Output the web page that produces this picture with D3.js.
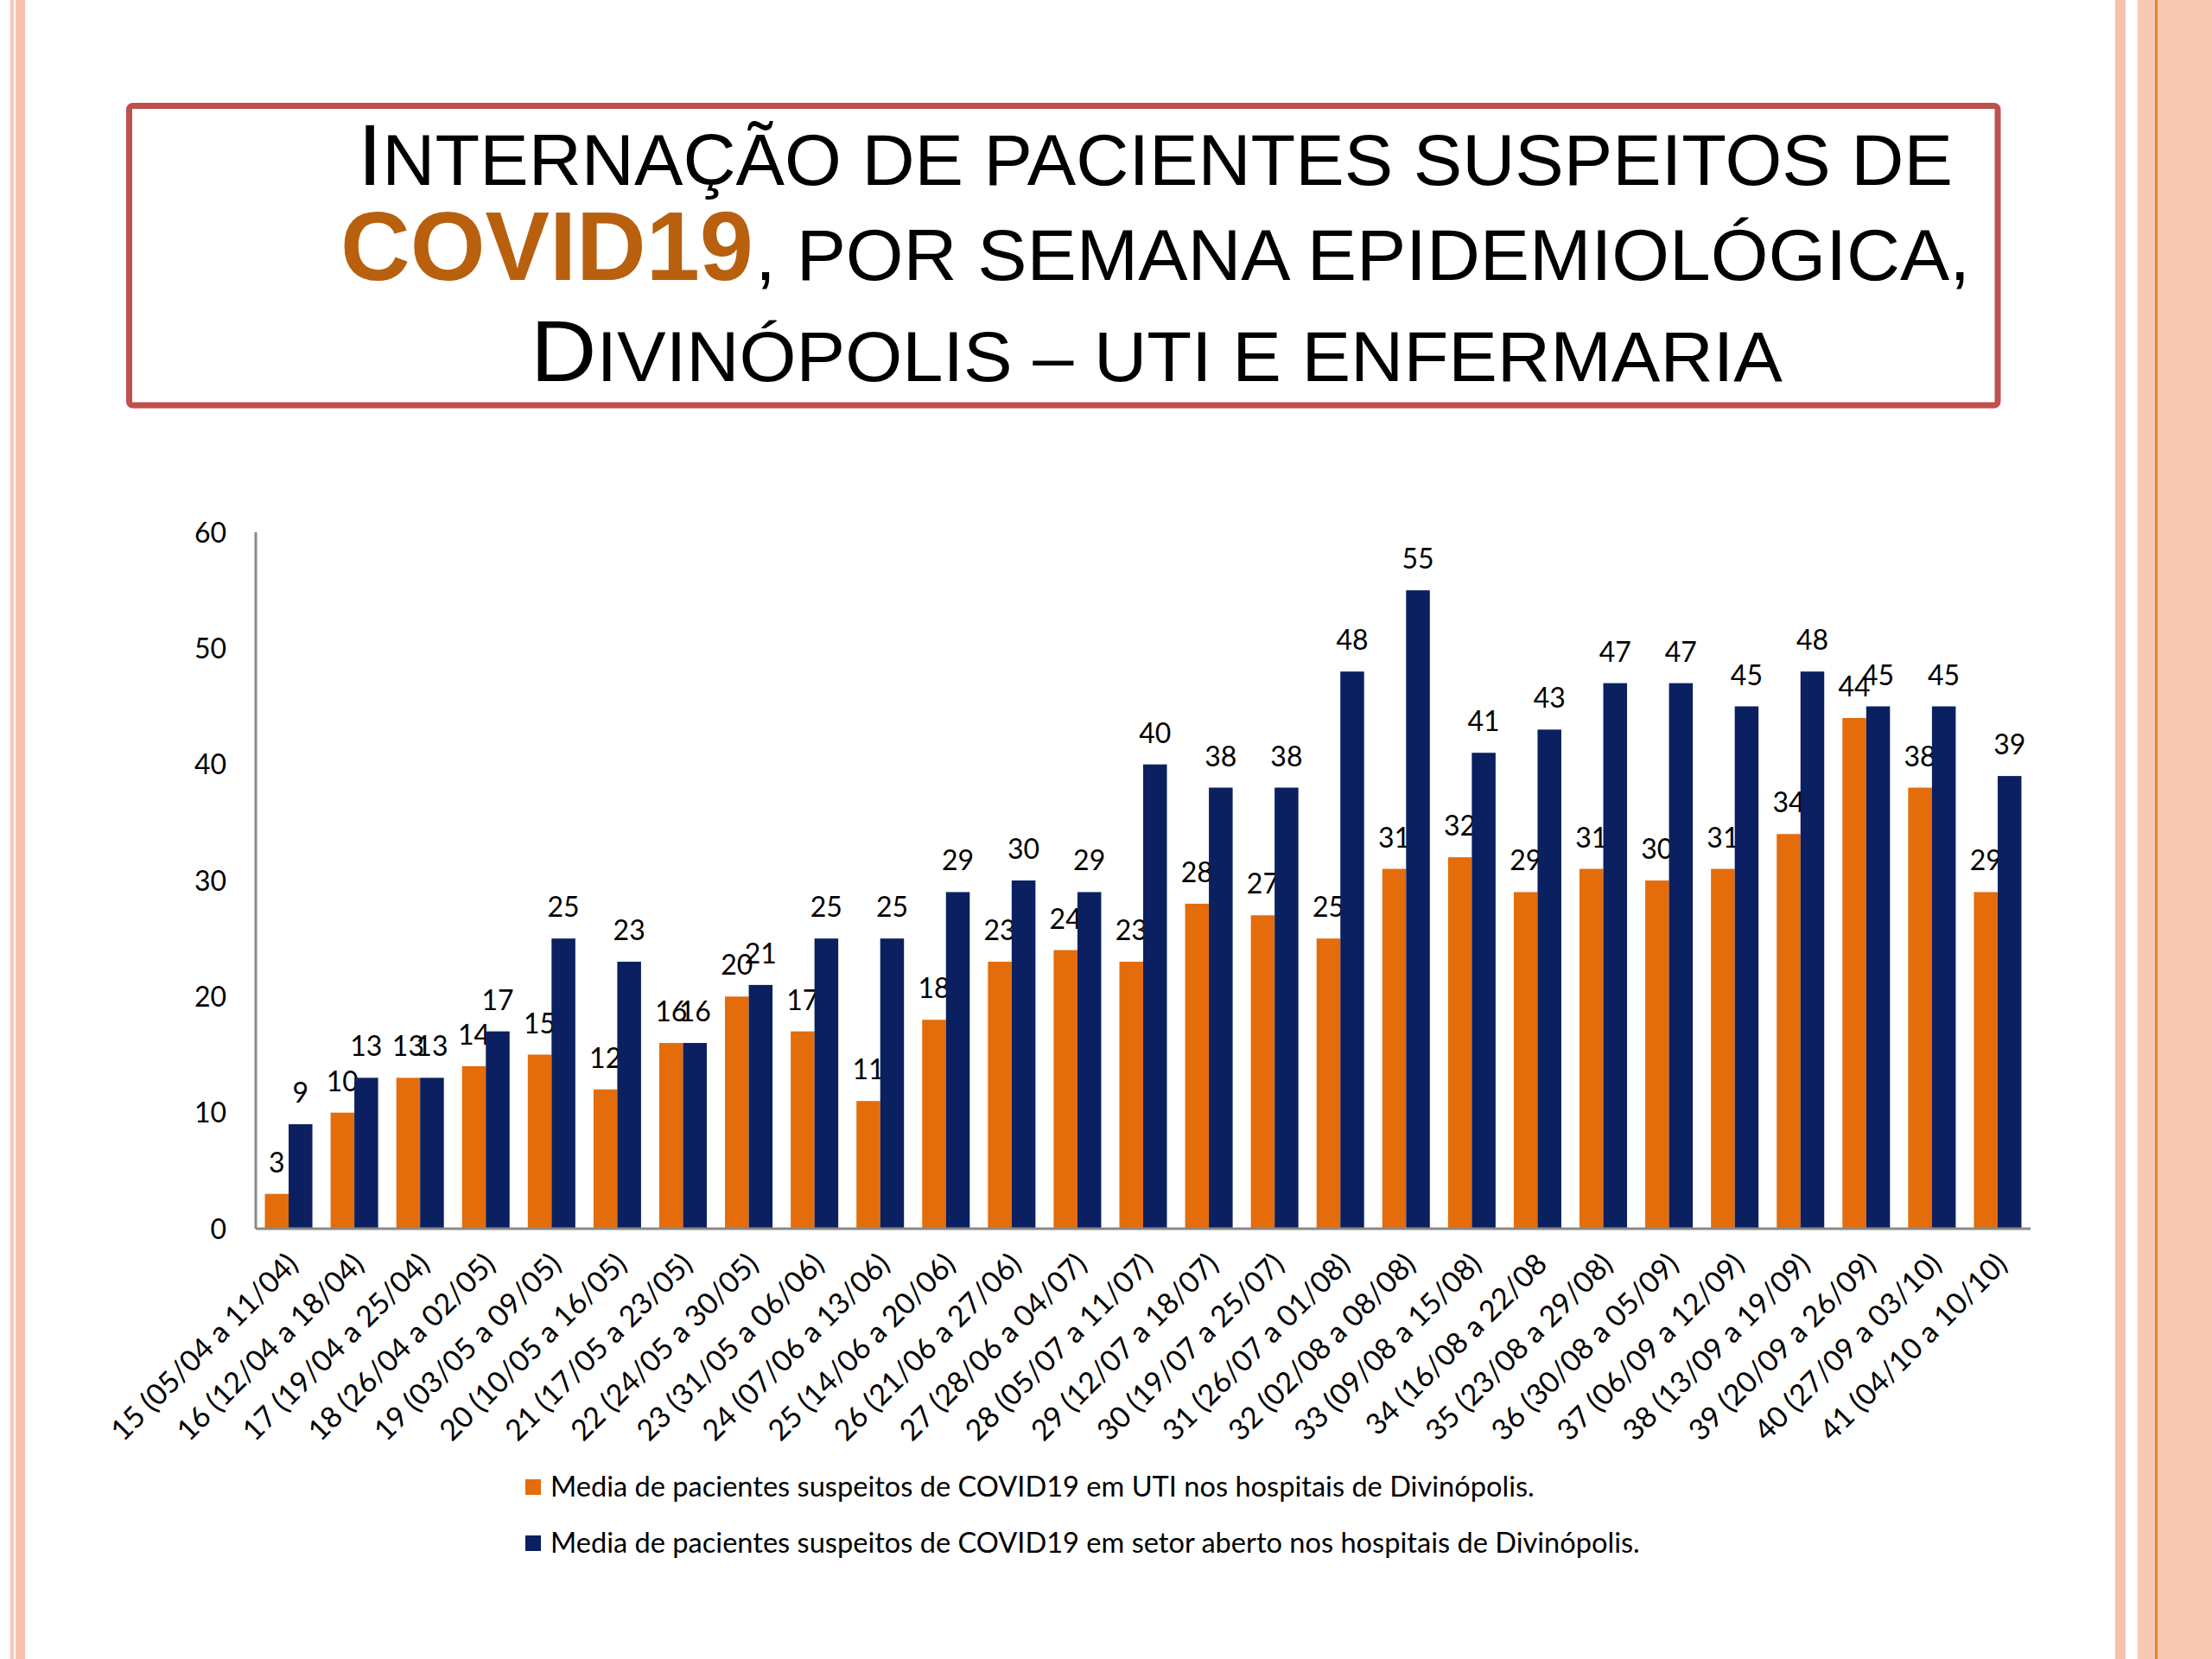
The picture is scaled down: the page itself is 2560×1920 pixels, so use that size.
<!DOCTYPE html>
<html>
<head>
<meta charset="utf-8">
<script src="https://cdn.jsdelivr.net/npm/d3@7"></script>
<style>
  body { margin: 0; background: #ffffff; }
  svg { display: block; }
</style>
</head>
<body>
<div class="slide"></div>
<script>
// semanas epidemiologicas (x axis)
const weeks = [
  "15 (05/04 a 11/04)", "16 (12/04 a 18/04)", "17 (19/04 a 25/04)", "18 (26/04 a 02/05)",
  "19 (03/05 a 09/05)", "20 (10/05 a 16/05)", "21 (17/05 a 23/05)", "22 (24/05 a 30/05)",
  "23 (31/05 a 06/06)", "24 (07/06 a 13/06)", "25 (14/06 a 20/06)", "26 (21/06 a 27/06)",
  "27 (28/06 a 04/07)", "28 (05/07 a 11/07)", "29 (12/07 a 18/07)", "30 (19/07 a 25/07)",
  "31 (26/07 a 01/08)", "32 (02/08 a 08/08)", "33 (09/08 a 15/08)", "34 (16/08 a 22/08",
  "35 (23/08 a 29/08)", "36 (30/08 a 05/09)", "37 (06/09 a 12/09)", "38 (13/09 a 19/09)",
  "39 (20/09 a 26/09)", "40 (27/09 a 03/10)", "41 (04/10 a 10/10)"
];

// media UTI (orange)
const utiValues = [3, 10, 13, 14, 15, 12, 16, 20, 17, 11, 18, 23, 24, 23, 28, 27, 25, 31, 32, 29, 31, 30, 31, 34, 44, 38, 29];
// media setor aberto (navy)
const setorValues = [9, 13, 13, 17, 25, 23, 16, 21, 25, 25, 29, 30, 29, 40, 38, 38, 48, 55, 41, 43, 47, 47, 45, 48, 45, 45, 39];

const yTicks = [0, 10, 20, 30, 40, 50, 60];

const legendLabels = [
  "Media de pacientes suspeitos de COVID19 em UTI nos hospitais de Divinópolis.",
  "Media de pacientes suspeitos de COVID19 em setor aberto nos hospitais de Divinópolis."
];

// title pieces: upper case = full capital, lower case = small capital
const titleLine1 = "Internação de pacientes suspeitos de";
const titleHighlight = "COVID19";
const titleLine2 = ", por semana epidemiológica,";
const titleLine3 = "Divinópolis – uti e enfermaria";

var cfg = {
  width: 2560,
  height: 1920,
  plot: {left: 296, right: 2350, top: 616, bottom: 1422},
  colors: ["#e46c0a", "#0a2060"],
  axisColor: "#898989",
  font: "Lato, 'Open Sans', sans-serif",
  titleFont: "'Liberation Sans', Arial, sans-serif"
};

var scale = {
  x: d3.scaleBand()
      .domain(weeks)
      .range([cfg.plot.left, cfg.plot.right])
      .paddingInner(0.277)
      .paddingOuter(0.1385),
  y: d3.scaleLinear()
      .domain([0, 60])
      .range([cfg.plot.bottom, cfg.plot.top])
};

var seriesScale = d3.scaleBand()
    .domain([0, 1])
    .range([0, scale.x.bandwidth()]);

var svg = d3.select(".slide").append("svg")
    .attr("width", cfg.width)
    .attr("height", cfg.height);

function initBackground(){
    svg.append("rect")
      .attr("width", cfg.width).attr("height", cfg.height)
      .attr("fill", "#ffffff");

    // left stripes
    svg.append("rect").attr("x", 12).attr("y", 0).attr("width", 4).attr("height", cfg.height).attr("fill", "#f8c8b4");
    svg.append("rect").attr("x", 18).attr("y", 0).attr("width", 11).attr("height", cfg.height).attr("fill", "#f6c2ac");

    // right stripes
    svg.append("rect").attr("x", 2448).attr("y", 0).attr("width", 12).attr("height", cfg.height).attr("fill", "#f6c2ac");
    svg.append("rect").attr("x", 2474).attr("y", 0).attr("width", 86).attr("height", cfg.height).attr("fill", "#f7c8b2");
    svg.append("rect").attr("x", 2494).attr("y", 0).attr("width", 3).attr("height", cfg.height).attr("fill", "#e9822a");
}

function smallCaps(textSel, str, bigSize, smallSize){
    // split string into runs of "big" (upper case) and "small" (lower case) letters
    var runs = [];
    for (const ch of str) {
      var big = ch !== ch.toLowerCase();
      if (runs.length && runs[runs.length - 1].big === big) runs[runs.length - 1].t += ch;
      else runs.push({t: ch, big: big});
    }
    textSel.selectAll("tspan")
      .data(runs)
      .enter().append("tspan")
      .style("font-size", d => (d.big ? bigSize : smallSize) + "px")
      .text(d => d.t.toUpperCase());
}

function initTitle(){
    svg.append("rect")
      .attr("x", 149.5).attr("y", 122.5)
      .attr("width", 2312 - 149.5).attr("height", 469 - 122.5)
      .attr("rx", 4)
      .attr("fill", "none")
      .attr("stroke", "#c0504d")
      .attr("stroke-width", 7);

    var g = svg.append("g").attr("id", "title")
      .style("font-family", cfg.titleFont)
      .style("fill", "#000");

    // 1. line one
    var l1 = g.append("text")
      .attr("x", 414).attr("y", 214)
      .attr("textLength", 1846)
      .attr("lengthAdjust", "spacingAndGlyphs");
    smallCaps(l1, titleLine1, 101, 84);

    // 2. line two
    g.append("text")
      .attr("x", 394).attr("y", 324)
      .attr("textLength", 478)
      .attr("lengthAdjust", "spacingAndGlyphs")
      .style("font-size", "114px")
      .style("font-weight", "bold")
      .style("fill", "#b8600e")
      .text(titleHighlight);
    var l2 = g.append("text")
      .attr("x", 874).attr("y", 324)
      .attr("textLength", 1406)
      .attr("lengthAdjust", "spacingAndGlyphs");
    smallCaps(l2, titleLine2, 101, 84);

    // 3. line three
    var l3 = g.append("text")
      .attr("x", 614).attr("y", 441)
      .attr("textLength", 1449)
      .attr("lengthAdjust", "spacingAndGlyphs");
    smallCaps(l3, titleLine3, 101, 81);
}

function initAxis(){
    // y tick labels (no tick marks)
    svg.append("g").attr("id", "y-labels")
      .selectAll("text")
      .data(yTicks)
      .enter().append("text")
      .attr("x", 262)
      .attr("y", d => scale.y(d))
      .attr("dy", "0.36em")
      .attr("text-anchor", "end")
      .style("font-family", cfg.font)
      .style("font-size", "32px")
      .style("fill", "#000")
      .text(d => d);

    // axis lines
    svg.append("line")
      .attr("x1", cfg.plot.left).attr("x2", cfg.plot.left)
      .attr("y1", scale.y(60)).attr("y2", scale.y(0))
      .attr("stroke", cfg.axisColor).attr("stroke-width", 3);

    // x labels, rotated
    svg.append("g").attr("id", "x-labels")
      .selectAll("text")
      .data(weeks)
      .enter().append("text")
      .attr("transform", d => `translate(${scale.x(d) + scale.x.bandwidth() / 2 + 13}, ${cfg.plot.bottom + 43}) rotate(-45)`)
      .attr("text-anchor", "end")
      .style("font-family", cfg.font)
      .style("font-size", "34px")
      .style("fill", "#000")
      .text(d => d);
}

function drawBars(){
    var seriesList = [utiValues, setorValues];

    seriesList.forEach((values, s) => {
      var g = svg.append("g").attr("id", "series-" + s);

      g.selectAll("rect")
        .data(values)
        .enter().append("rect")
        .attr("x", (d, i) => scale.x(weeks[i]) + seriesScale(s))
        .attr("y", d => scale.y(d))
        .attr("width", seriesScale.bandwidth())
        .attr("height", d => scale.y(0) - scale.y(d))
        .attr("fill", cfg.colors[s]);

      // data labels
      g.selectAll("text")
        .data(values)
        .enter().append("text")
        .attr("x", (d, i) => scale.x(weeks[i]) + seriesScale(s) + seriesScale.bandwidth() / 2)
        .attr("y", d => scale.y(d) - 25)
        .attr("text-anchor", "middle")
        .style("font-family", cfg.font)
        .style("font-size", "32px")
        .style("fill", "#000")
        .text(d => d);
    });

    // x axis line on top of bars
    svg.append("line")
      .attr("x1", cfg.plot.left).attr("x2", cfg.plot.right)
      .attr("y1", scale.y(0)).attr("y2", scale.y(0))
      .attr("stroke", cfg.axisColor).attr("stroke-width", 3);
}

function initLegend(){
    var rowY = [1721, 1786];
    var g = svg.append("g").attr("id", "legend");

    var rows = g.selectAll("g")
      .data(legendLabels)
      .enter().append("g")
      .attr("transform", (d, i) => `translate(608, ${rowY[i]})`);

    rows.append("rect")
      .attr("x", 0).attr("y", -9)
      .attr("width", 18).attr("height", 18)
      .attr("fill", (d, i) => cfg.colors[i]);

    rows.append("text")
      .attr("x", 29)
      .attr("y", 11)
      .style("font-family", cfg.font)
      .style("font-size", "32.6px")
      .style("fill", "#000")
      .text(d => d);
}

initBackground();
initTitle();
drawBars();
initAxis();
initLegend();
</script>
</body>
</html>
